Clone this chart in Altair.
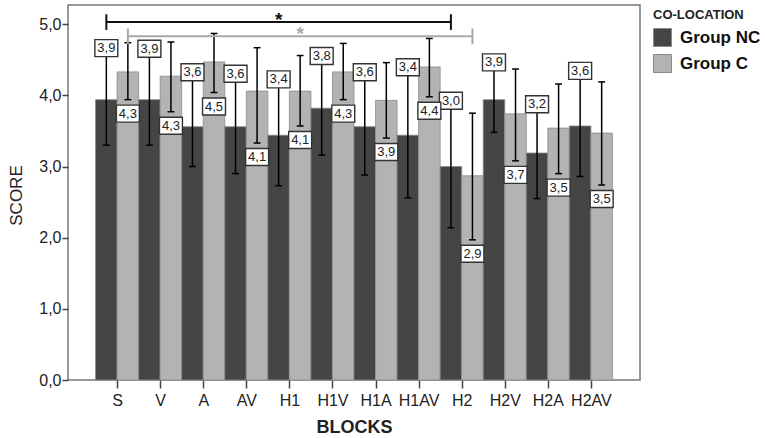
import json
import altair as alt
import pandas as pd

# ---- data ----
categories = ["S", "V", "A", "AV", "H1", "H1V", "H1A", "H1AV", "H2", "H2V", "H2A", "H2AV"]
groups = ["Group NC", "Group C"]

nc_mean = [3.94, 3.94, 3.56, 3.56, 3.44, 3.82, 3.56, 3.44, 3.00, 3.94, 3.19, 3.57]
c_mean = [4.33, 4.27, 4.47, 4.06, 4.06, 4.33, 3.93, 4.40, 2.87, 3.74, 3.54, 3.47]

nc_low = [3.30, 3.30, 3.00, 2.90, 2.73, 3.16, 2.88, 2.56, 2.14, 3.48, 2.55, 2.86]
nc_high = [4.58, 4.57, 4.24, 4.22, 4.14, 4.47, 4.24, 4.31, 3.84, 4.38, 3.79, 4.26]
c_low = [3.94, 3.77, 4.04, 3.33, 3.57, 3.94, 3.40, 3.98, 1.97, 3.08, 2.90, 2.74]
c_high = [4.74, 4.75, 4.87, 4.67, 4.56, 4.73, 4.46, 4.80, 3.75, 4.37, 4.16, 4.19]

# significance brackets: (from block, to block, group, level)
brackets = [("S", "H2", "Group NC", 5.03), ("S", "H2", "Group C", 4.83)]

y_ticks = [0, 1, 2, 3, 4, 5]

# ---- styling ----
FONT = "Liberation Sans"
BAR_COLORS = ["#454545", "#b3b3b3"]
BRACKET_COLORS = {"Group NC": "#111111", "Group C": "#a9a9a9"}
GROUP_OFFSET = {"Group NC": -0.5, "Group C": 0.0}
HALF = 0.25
CAP = 0.08
TICK = 0.11

rows = []
for i, cat in enumerate(categories):
    for g, m, lo, hi in [
        (groups[0], nc_mean[i], nc_low[i], nc_high[i]),
        (groups[1], c_mean[i], c_low[i], c_high[i]),
    ]:
        x0 = i + GROUP_OFFSET[g]
        rows.append(dict(
            block=cat, group=g, x0=x0, x1=x0 + 2 * HALF, center=x0 + HALF,
            capL=x0 + HALF - CAP, capR=x0 + HALF + CAP,
            mean=m, lo=lo, hi=hi, zero=0.0,
            label=f"{m:.1f}".replace(".", ","),
        ))
df = pd.DataFrame(rows)

brows = []
for a, b, g, lvl in brackets:
    xa = categories.index(a) + GROUP_OFFSET[g] + HALF
    xb = categories.index(b) + GROUP_OFFSET[g] + HALF
    brows.append(dict(group=g, xa=xa, xb=xb, mid=(xa + xb) / 2, level=lvl,
                      tlo=lvl - TICK, thi=lvl + TICK))
bdf = pd.DataFrame(brows)

xscale = alt.Scale(domain=[-1.14, 12.14], nice=False, zero=False)
yscale = alt.Scale(domain=[0, 5.27], nice=False, zero=True)

xaxis = alt.Axis(
    values=list(range(len(categories))),
    labelExpr=json.dumps(categories) + "[datum.value]",
    title="BLOCKS", grid=False, domain=False, tickSize=8, tickColor="#444",
    tickWidth=1.5, labelFontSize=16, labelPadding=4, labelAngle=0,
    titleFontSize=18, titleFontWeight="bold", titleY=52, titleBaseline="alphabetic",
)
yaxis = alt.Axis(
    values=y_ticks,
    labelExpr="replace(format(datum.value, '.1f'), '.', ',')",
    title="SCORE", grid=False, domain=False, tickSize=6, tickColor="#444",
    tickWidth=1.5, labelFontSize=16, labelPadding=1,
    titleFontSize=17, titleFontWeight="normal", titleX=-47, titleY=190,
    titleBaseline="alphabetic",
)

base = alt.Chart(df)

bars = base.mark_rect(stroke="#8a8a8a", strokeWidth=0.8).encode(
    x=alt.X("x0:Q", scale=xscale, axis=xaxis),
    x2="x1:Q",
    y=alt.Y("mean:Q", scale=yscale, axis=yaxis),
    y2="zero:Q",
    color=alt.Color(
        "group:N",
        scale=alt.Scale(domain=groups, range=BAR_COLORS),
        legend=alt.Legend(
            title="CO-LOCATION", orient="none", legendX=585, legendY=4,
            symbolType="square", symbolSize=324, symbolStrokeColor="#8a8a8a",
            symbolStrokeWidth=1, symbolOpacity=1,
            labelFont=FONT, labelFontSize=17, labelFontWeight="bold", labelColor="#111",
            labelOffset=8, titleFont=FONT, titleFontSize=13, titleFontWeight="bold",
            titleColor="#222", titlePadding=6, rowPadding=3, padding=0,
        ),
    ),
)

errs = base.mark_rule(color="#000", strokeWidth=1.5).encode(
    x=alt.X("center:Q", scale=xscale, axis=xaxis),
    y=alt.Y("lo:Q", scale=yscale, axis=yaxis),
    y2="hi:Q",
)
cap_lo = base.mark_rule(color="#000", strokeWidth=1.5).encode(
    x=alt.X("capL:Q", scale=xscale, axis=xaxis), x2="capR:Q",
    y=alt.Y("lo:Q", scale=yscale, axis=yaxis),
)
cap_hi = base.mark_rule(color="#000", strokeWidth=1.5).encode(
    x=alt.X("capL:Q", scale=xscale, axis=xaxis), x2="capR:Q",
    y=alt.Y("hi:Q", scale=yscale, axis=yaxis),
)

layers = [bars, errs, cap_lo, cap_hi]

for g, col in BRACKET_COLORS.items():
    bb = alt.Chart(bdf).transform_filter(alt.datum.group == g)
    layers.append(bb.mark_rule(color=col, strokeWidth=2).encode(
        x=alt.X("xa:Q", scale=xscale, axis=xaxis), x2="xb:Q",
        y=alt.Y("level:Q", scale=yscale, axis=yaxis),
    ))
    layers.append(bb.mark_rule(color=col, strokeWidth=2).encode(
        x=alt.X("xa:Q", scale=xscale, axis=xaxis),
        y=alt.Y("tlo:Q", scale=yscale, axis=yaxis), y2="thi:Q",
    ))
    layers.append(bb.mark_rule(color=col, strokeWidth=2).encode(
        x=alt.X("xb:Q", scale=xscale, axis=xaxis),
        y=alt.Y("tlo:Q", scale=yscale, axis=yaxis), y2="thi:Q",
    ))
    layers.append(bb.mark_text(text="*", font=FONT, fontSize=19, fontWeight="bold",
                               color=col, baseline="alphabetic", dy=4).encode(
        x=alt.X("mid:Q", scale=xscale, axis=xaxis),
        y=alt.Y("level:Q", scale=yscale, axis=yaxis),
    ))

BOX = "M-1.35,-1L1.35,-1L1.35,1L-1.35,1Z"
for g, field, off in [("Group NC", "hi", -6), ("Group C", "lo", 14)]:
    sub = base.transform_filter(alt.datum.group == g)
    layers.append(sub.mark_point(shape=BOX, size=289, filled=True, fill="white",
                                 stroke="#333", strokeWidth=1.4, opacity=1,
                                 yOffset=off).encode(
        x=alt.X("center:Q", scale=xscale, axis=xaxis),
        y=alt.Y(f"{field}:Q", scale=yscale, axis=yaxis),
    ))
    layers.append(sub.mark_text(font=FONT, fontSize=13, color="#222",
                                baseline="middle", align="center", dy=off).encode(
        x=alt.X("center:Q", scale=xscale, axis=xaxis),
        y=alt.Y(f"{field}:Q", scale=yscale, axis=yaxis),
        text="label:N",
    ))

chart = alt.layer(*layers).properties(
    width=572, height=375,
    padding={"left": 68, "top": 5, "right": 125, "bottom": 58},
    autosize=alt.AutoSizeParams(type="none"),
).configure_view(
    stroke="#777", strokeWidth=1.5
).configure_axis(
    labelFont=FONT, titleFont=FONT, labelColor="#222", titleColor="#222"
)

chart.save("out.html", embed_options={"renderer": "svg", "actions": False})
